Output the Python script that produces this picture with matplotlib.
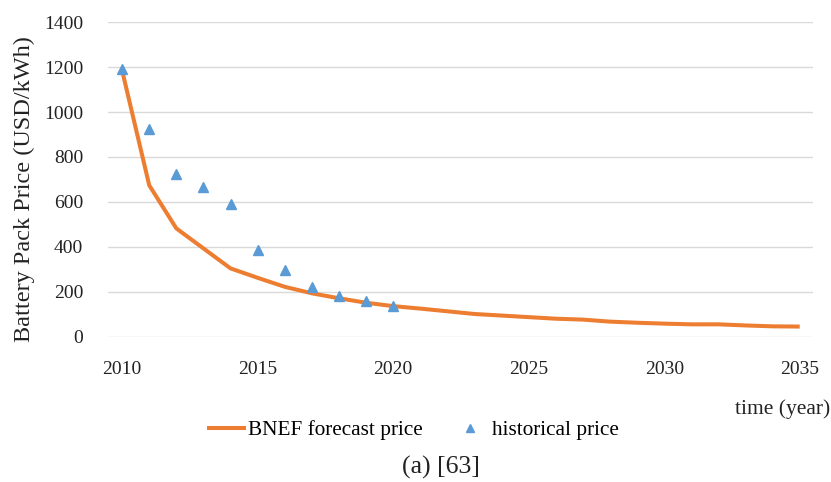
import matplotlib.pyplot as plt
import numpy as np

# BNEF forecast (line) and historical price (triangles), USD/kWh
forecast_years = np.arange(2010, 2036)
forecast_price = [1185, 674, 482, 393, 304, 262, 222, 193, 171, 151, 136,
                  125, 113, 101, 94, 87, 80, 76, 67, 62, 58, 55, 55, 50, 46, 45]
hist_years = np.arange(2010, 2021)
hist_price = [1191, 924, 726, 668, 592, 384, 295, 221, 181, 157, 137]

plt.rcParams["font.family"] = ["Liberation Serif", "DejaVu Serif"]
text_col = "#222222"

fig = plt.figure(figsize=(8.31, 4.82), dpi=100)
ax = fig.add_axes([0.130, 0.3015, 0.848, 0.6525])

line, = ax.plot(forecast_years, forecast_price, color="#ED7D31", linewidth=2.9,
                solid_capstyle="butt", zorder=3)
pts, = ax.plot(hist_years, hist_price, linestyle="none", marker="^",
               markersize=7.5, color="#5B9BD5", zorder=4)

ax.set_xlim(2009.48, 2035.48)
ax.set_ylim(0, 1400)
ax.set_xticks(np.arange(2010, 2036, 5))
ax.set_yticks(np.arange(0, 1401, 200))
ax.grid(axis="y", color="#D9D9D9", linewidth=1.0)
ax.set_axisbelow(True)
for s in ax.spines.values():
    s.set_visible(False)
ax.tick_params(length=0, labelsize=14, colors=text_col)
ax.tick_params(axis="x", pad=17.5)
ax.tick_params(axis="y", pad=18)

# axis titles placed in figure coords
fig.text(24 / 831, 1 - 189 / 482, "Battery Pack Price (USD/kWh)", rotation=90,
         ha="center", va="center", fontsize=17.5, color=text_col)
fig.text(830 / 831, 1 - 409 / 482, "time (year)", ha="right", va="center",
         fontsize=15.5, color=text_col)

fig.legend([line, pts], ["BNEF forecast price", "historical price"],
           loc="center", bbox_to_anchor=(413 / 831, 1 - 430 / 482), ncol=2,
           frameon=False, fontsize=15.3, handlelength=1.85, handletextpad=0.1,
           columnspacing=1.3, markerscale=0.8, borderpad=0)
fig.text(441 / 831, 1 - 467 / 482, "(a) [63]", ha="center", va="center",
         fontsize=18.5, color=text_col)

fig.savefig("out.png", dpi=100)
